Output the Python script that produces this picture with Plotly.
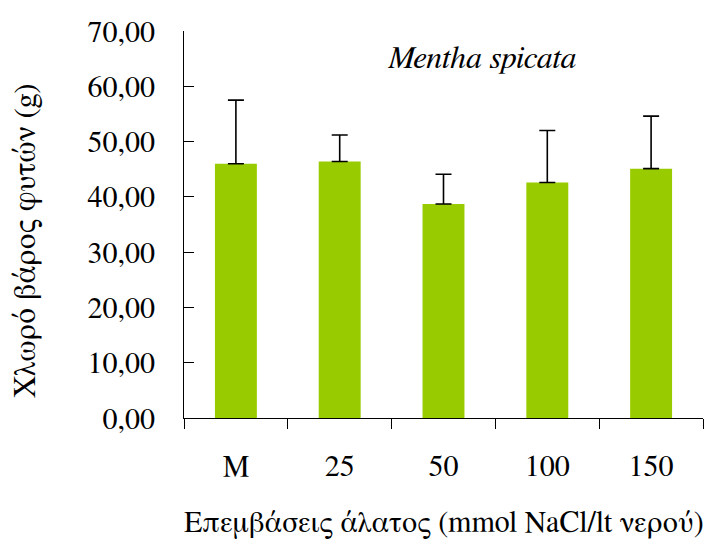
import plotly.graph_objects as go

categories = ["M", "25", "50", "100", "150"]
means = [46.0, 46.4, 38.7, 42.6, 45.1]
errors_plus = [11.5, 4.8, 5.4, 9.4, 9.5]
y_ticks = [0, 10, 20, 30, 40, 50, 60, 70]

FONT = "FreeSerif, 'Liberation Serif', 'Times New Roman', serif"

fig = go.Figure()
fig.add_trace(go.Bar(
    x=categories,
    y=means,
    marker=dict(color="#99CC00", line=dict(width=0)),
    error_y=dict(type="data", symmetric=False, array=errors_plus,
                 arrayminus=[0] * len(errors_plus),
                 color="black", thickness=1.6, width=8),
))

fig.update_layout(
    width=704, height=535,
    margin=dict(l=176, r=9, t=17, b=125, pad=0),
    plot_bgcolor="white", paper_bgcolor="white",
    separators=",.",
    bargap=0.596,
    showlegend=False,
    font=dict(family=FONT, size=30, color="black"),
)
fig.update_xaxes(
    showline=True, linecolor="black", linewidth=1,
    ticks="outside", ticklen=10, tickwidth=1, tickcolor="black",
    tickson="boundaries", ticklabelstandoff=21,
    tickfont=dict(family=FONT, size=30, color="black"),
    showgrid=False, zeroline=False,
)
fig.update_yaxes(
    range=[0, 70], tickvals=y_ticks, tickformat=".2f",
    showline=True, linecolor="black", linewidth=1,
    ticks="inside", ticklen=10, tickwidth=1, tickcolor="black",
    ticklabelstandoff=22,
    tickfont=dict(family=FONT, size=30, color="black"),
    showgrid=False, zeroline=False,
)

fig.add_annotation(
    text="Επεμβάσεις άλατος (mmol NaCl/lt νερού)",
    xref="paper", yref="paper", x=0.5, y=-0.2734,
    xanchor="center", yanchor="middle", showarrow=False,
    font=dict(family=FONT, size=30, color="black"),
)
fig.add_annotation(
    text="Χλωρό βάρος φυτών (g)",
    xref="paper", yref="paper", x=-0.303, y=0.459,
    xanchor="center", yanchor="middle", showarrow=False, textangle=-90,
    font=dict(family=FONT, size=31, color="black"),
)
fig.add_annotation(
    text="<i>Mentha spicata</i>",
    xref="paper", yref="paper", x=0.574, y=0.931,
    xanchor="center", yanchor="middle", showarrow=False,
    font=dict(family=FONT, size=32, color="black"),
)

fig.write_html("out.html")
